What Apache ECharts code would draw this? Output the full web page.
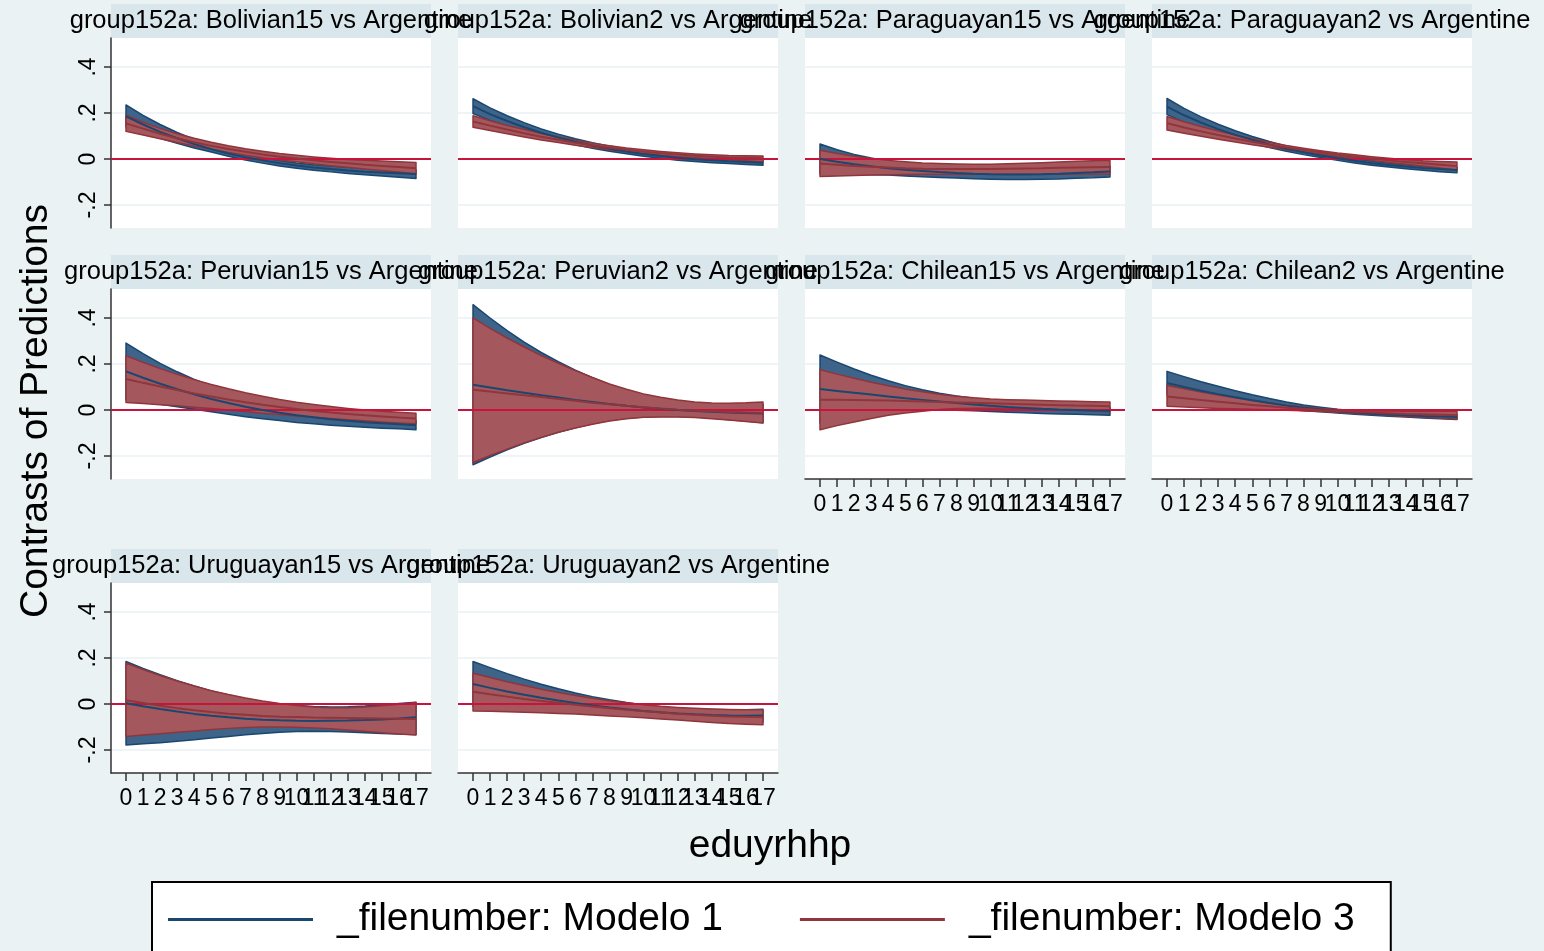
<!DOCTYPE html>
<html>
<head>
<meta charset="utf-8">
<script src="https://cdn.jsdelivr.net/npm/echarts@6/dist/echarts.min.js"></script>
<style>
html, body { margin: 0; background: #eaf2f3; }
#chart { width: 1544px; height: 951px; }
</style>
</head>
<body>
<div id="chart"></div>
<script>
const xValues = [0, 1, 2, 3, 4, 5, 6, 7, 8, 9, 10, 11, 12, 13, 14, 15, 16, 17]
const yTicks = [-0.2, 0, 0.2, 0.4]
const yTickLabels = ['-.2', '0', '.2', '.4']
const panelTitles = [
    'group152a: Bolivian15 vs Argentine', 'group152a: Bolivian2 vs Argentine',
    'group152a: Paraguayan15 vs Argentine', 'group152a: Paraguayan2 vs Argentine',
    'group152a: Peruvian15 vs Argentine', 'group152a: Peruvian2 vs Argentine',
    'group152a: Chilean15 vs Argentine', 'group152a: Chilean2 vs Argentine',
    'group152a: Uruguayan15 vs Argentine', 'group152a: Uruguayan2 vs Argentine'
]
const modelNames = ['_filenumber: Modelo 1', '_filenumber: Modelo 3']

// Bolivian15
const bol15M1Est = [0.185, 0.15, 0.118, 0.09, 0.065, 0.043, 0.024, 0.008, -0.006, -0.018, -0.028, -0.037, -0.044, -0.05, -0.055, -0.059, -0.062, -0.065]
const bol15M1Hi = [0.235, 0.19, 0.15, 0.115, 0.085, 0.06, 0.038, 0.02, 0.005, -0.007, -0.017, -0.025, -0.031, -0.036, -0.04, -0.043, -0.045, -0.047]
const bol15M1Lo = [0.14, 0.115, 0.09, 0.068, 0.048, 0.03, 0.012, -0.004, -0.018, -0.03, -0.04, -0.049, -0.056, -0.063, -0.069, -0.074, -0.079, -0.085]
const bol15M3Est = [0.155, 0.132, 0.11, 0.09, 0.073, 0.057, 0.043, 0.031, 0.02, 0.01, 0.002, -0.006, -0.013, -0.019, -0.025, -0.03, -0.035, -0.04]
const bol15M3Hi = [0.19, 0.16, 0.133, 0.11, 0.09, 0.073, 0.058, 0.045, 0.034, 0.024, 0.016, 0.009, 0.003, -0.002, -0.006, -0.009, -0.012, -0.015]
const bol15M3Lo = [0.12, 0.104, 0.088, 0.072, 0.057, 0.042, 0.028, 0.016, 0.005, -0.004, -0.012, -0.021, -0.029, -0.036, -0.043, -0.05, -0.057, -0.065]
// Bolivian2
const bol2M1Est = [0.23, 0.195, 0.165, 0.138, 0.114, 0.093, 0.075, 0.059, 0.045, 0.033, 0.022, 0.013, 0.005, -0.001, -0.006, -0.01, -0.013, -0.016]
const bol2M1Hi = [0.262, 0.222, 0.188, 0.158, 0.131, 0.108, 0.088, 0.071, 0.056, 0.043, 0.032, 0.023, 0.015, 0.009, 0.004, 0.0, -0.003, -0.005]
const bol2M1Lo = [0.198, 0.168, 0.142, 0.118, 0.097, 0.078, 0.062, 0.047, 0.034, 0.023, 0.012, 0.003, -0.005, -0.011, -0.016, -0.02, -0.024, -0.027]
const bol2M3Est = [0.163, 0.145, 0.128, 0.112, 0.097, 0.084, 0.071, 0.06, 0.049, 0.04, 0.032, 0.025, 0.019, 0.014, 0.01, 0.007, 0.005, 0.003]
const bol2M3Hi = [0.188, 0.166, 0.146, 0.128, 0.111, 0.096, 0.082, 0.069, 0.058, 0.048, 0.04, 0.033, 0.027, 0.022, 0.018, 0.015, 0.014, 0.013]
const bol2M3Lo = [0.138, 0.124, 0.11, 0.096, 0.083, 0.072, 0.06, 0.05, 0.04, 0.031, 0.023, 0.016, 0.01, 0.005, 0.001, -0.003, -0.008, -0.012]
// Paraguayan15
const par15M1Est = [0.0, -0.012, -0.023, -0.032, -0.04, -0.047, -0.052, -0.057, -0.061, -0.064, -0.066, -0.067, -0.067, -0.066, -0.064, -0.061, -0.058, -0.054]
const par15M1Hi = [0.065, 0.04, 0.02, 0.004, -0.01, -0.02, -0.028, -0.034, -0.039, -0.042, -0.044, -0.045, -0.045, -0.044, -0.041, -0.038, -0.034, -0.03]
const par15M1Lo = [-0.065, -0.064, -0.066, -0.068, -0.07, -0.074, -0.077, -0.08, -0.083, -0.086, -0.088, -0.089, -0.089, -0.088, -0.087, -0.084, -0.082, -0.078]
const par15M3Est = [-0.02, -0.025, -0.03, -0.034, -0.037, -0.04, -0.042, -0.043, -0.044, -0.044, -0.043, -0.042, -0.041, -0.04, -0.038, -0.037, -0.036, -0.035]
const par15M3Hi = [0.038, 0.024, 0.012, 0.002, -0.006, -0.012, -0.017, -0.02, -0.022, -0.023, -0.023, -0.021, -0.019, -0.016, -0.013, -0.01, -0.008, -0.006]
const par15M3Lo = [-0.076, -0.074, -0.072, -0.07, -0.068, -0.067, -0.066, -0.066, -0.066, -0.066, -0.066, -0.066, -0.066, -0.066, -0.066, -0.065, -0.065, -0.065]
// Paraguayan2
const par2M1Est = [0.228, 0.19, 0.158, 0.13, 0.105, 0.083, 0.063, 0.045, 0.029, 0.015, 0.003, -0.008, -0.018, -0.026, -0.033, -0.039, -0.044, -0.048]
const par2M1Hi = [0.263, 0.22, 0.183, 0.151, 0.123, 0.098, 0.076, 0.056, 0.039, 0.024, 0.012, 0.001, -0.009, -0.017, -0.024, -0.029, -0.033, -0.036]
const par2M1Lo = [0.193, 0.16, 0.133, 0.109, 0.087, 0.068, 0.05, 0.034, 0.019, 0.006, -0.006, -0.017, -0.027, -0.035, -0.042, -0.049, -0.055, -0.06]
const par2M3Est = [0.156, 0.137, 0.12, 0.104, 0.089, 0.075, 0.062, 0.05, 0.039, 0.029, 0.019, 0.01, 0.002, -0.006, -0.013, -0.019, -0.025, -0.031]
const par2M3Hi = [0.185, 0.162, 0.141, 0.122, 0.104, 0.088, 0.073, 0.059, 0.047, 0.036, 0.026, 0.018, 0.01, 0.003, -0.003, -0.008, -0.011, -0.013]
const par2M3Lo = [0.126, 0.112, 0.099, 0.086, 0.074, 0.062, 0.051, 0.041, 0.031, 0.022, 0.012, 0.002, -0.006, -0.015, -0.023, -0.03, -0.039, -0.049]
// Peruvian15
const per15M1Est = [0.168, 0.14, 0.114, 0.09, 0.068, 0.048, 0.03, 0.014, 0.0, -0.012, -0.023, -0.032, -0.04, -0.047, -0.053, -0.058, -0.062, -0.066]
const per15M1Hi = [0.291, 0.245, 0.203, 0.166, 0.133, 0.104, 0.079, 0.057, 0.038, 0.022, 0.009, -0.002, -0.012, -0.02, -0.027, -0.034, -0.04, -0.045]
const per15M1Lo = [0.045, 0.035, 0.025, 0.014, 0.003, -0.008, -0.019, -0.029, -0.038, -0.046, -0.054, -0.06, -0.066, -0.071, -0.075, -0.079, -0.082, -0.086]
const per15M3Est = [0.135, 0.118, 0.102, 0.087, 0.072, 0.059, 0.046, 0.034, 0.023, 0.013, 0.004, -0.004, -0.011, -0.017, -0.023, -0.028, -0.033, -0.037]
const per15M3Hi = [0.236, 0.207, 0.18, 0.155, 0.132, 0.111, 0.092, 0.075, 0.06, 0.046, 0.034, 0.024, 0.015, 0.007, 0.0, -0.005, -0.01, -0.014]
const per15M3Lo = [0.033, 0.028, 0.023, 0.018, 0.012, 0.006, 0.0, -0.007, -0.014, -0.02, -0.026, -0.032, -0.037, -0.042, -0.047, -0.052, -0.056, -0.06]
// Peruvian2
const per2M1Est = [0.11, 0.098, 0.086, 0.075, 0.064, 0.054, 0.044, 0.035, 0.026, 0.018, 0.011, 0.005, 0.0, -0.004, -0.008, -0.011, -0.013, -0.015]
const per2M1Hi = [0.458, 0.4, 0.345, 0.295, 0.25, 0.21, 0.173, 0.14, 0.11, 0.085, 0.065, 0.05, 0.038, 0.03, 0.026, 0.024, 0.024, 0.025]
const per2M1Lo = [-0.238, -0.205, -0.173, -0.145, -0.12, -0.097, -0.077, -0.06, -0.046, -0.036, -0.03, -0.028, -0.028, -0.03, -0.035, -0.042, -0.048, -0.055]
const per2M3Est = [0.088, 0.08, 0.072, 0.064, 0.056, 0.048, 0.04, 0.032, 0.025, 0.018, 0.012, 0.006, 0.001, -0.003, -0.006, -0.009, -0.011, -0.013]
const per2M3Hi = [0.4, 0.355, 0.313, 0.274, 0.237, 0.203, 0.171, 0.141, 0.113, 0.09, 0.07, 0.055, 0.043, 0.035, 0.03, 0.029, 0.031, 0.035]
const per2M3Lo = [-0.228, -0.198, -0.17, -0.143, -0.119, -0.097, -0.078, -0.062, -0.048, -0.038, -0.032, -0.03, -0.03, -0.033, -0.038, -0.044, -0.05, -0.057]
// Chilean15
const chi15M1Est = [0.091, 0.083, 0.075, 0.067, 0.059, 0.051, 0.044, 0.037, 0.03, 0.024, 0.018, 0.013, 0.009, 0.005, 0.002, 0.0, -0.002, -0.003]
const chi15M1Hi = [0.239, 0.208, 0.178, 0.151, 0.127, 0.106, 0.088, 0.073, 0.061, 0.051, 0.043, 0.036, 0.03, 0.025, 0.021, 0.017, 0.014, 0.012]
const chi15M1Lo = [-0.057, -0.042, -0.028, -0.017, -0.009, -0.004, 0.0, 0.001, -0.001, -0.003, -0.007, -0.01, -0.012, -0.015, -0.017, -0.019, -0.021, -0.023]
const chi15M3Est = [0.045, 0.044, 0.043, 0.042, 0.041, 0.039, 0.037, 0.035, 0.033, 0.031, 0.029, 0.027, 0.025, 0.023, 0.021, 0.019, 0.018, 0.016]
const chi15M3Hi = [0.175, 0.156, 0.138, 0.121, 0.105, 0.091, 0.079, 0.068, 0.06, 0.053, 0.048, 0.045, 0.043, 0.041, 0.039, 0.038, 0.036, 0.035]
const chi15M3Lo = [-0.086, -0.068, -0.052, -0.037, -0.023, -0.013, -0.005, 0.002, 0.006, 0.008, 0.008, 0.007, 0.005, 0.003, 0.0, -0.002, -0.005, -0.008]
// Chilean2
const chi2M1Est = [0.117, 0.1, 0.084, 0.069, 0.055, 0.042, 0.03, 0.019, 0.01, 0.002, -0.005, -0.011, -0.016, -0.02, -0.023, -0.026, -0.028, -0.03]
const chi2M1Hi = [0.168, 0.145, 0.123, 0.103, 0.084, 0.066, 0.05, 0.035, 0.022, 0.012, 0.003, -0.004, -0.009, -0.013, -0.016, -0.018, -0.019, -0.02]
const chi2M1Lo = [0.066, 0.055, 0.045, 0.035, 0.026, 0.018, 0.01, 0.003, -0.003, -0.008, -0.013, -0.018, -0.023, -0.027, -0.031, -0.035, -0.038, -0.041]
const chi2M3Est = [0.059, 0.051, 0.043, 0.036, 0.029, 0.022, 0.016, 0.01, 0.005, 0.0, -0.004, -0.008, -0.011, -0.014, -0.017, -0.019, -0.021, -0.023]
const chi2M3Hi = [0.106, 0.092, 0.078, 0.065, 0.053, 0.041, 0.031, 0.021, 0.013, 0.007, 0.002, -0.001, -0.003, -0.004, -0.005, -0.005, -0.006, -0.006]
const chi2M3Lo = [0.016, 0.013, 0.01, 0.007, 0.005, 0.003, 0.001, -0.001, -0.003, -0.007, -0.011, -0.015, -0.019, -0.024, -0.028, -0.032, -0.036, -0.039]
// Uruguayan15
const uru15M1Est = [0.003, -0.01, -0.022, -0.033, -0.043, -0.051, -0.058, -0.064, -0.068, -0.071, -0.073, -0.074, -0.073, -0.072, -0.07, -0.067, -0.063, -0.058]
const uru15M1Hi = [0.185, 0.155, 0.127, 0.101, 0.078, 0.057, 0.039, 0.023, 0.01, 0.0, -0.007, -0.011, -0.013, -0.012, -0.009, -0.004, 0.002, 0.008]
const uru15M1Lo = [-0.178, -0.173, -0.168, -0.162, -0.155, -0.148, -0.141, -0.134, -0.128, -0.123, -0.12, -0.119, -0.12, -0.122, -0.125, -0.128, -0.13, -0.133]
const uru15M3Est = [0.016, 0.004, -0.008, -0.018, -0.027, -0.035, -0.042, -0.047, -0.052, -0.055, -0.057, -0.059, -0.06, -0.061, -0.062, -0.063, -0.064, -0.065]
const uru15M3Hi = [0.178, 0.15, 0.124, 0.1, 0.078, 0.058, 0.041, 0.026, 0.013, 0.002, -0.007, -0.013, -0.016, -0.016, -0.013, -0.008, -0.001, 0.006]
const uru15M3Lo = [-0.141, -0.135, -0.129, -0.123, -0.117, -0.111, -0.106, -0.102, -0.1, -0.1, -0.101, -0.104, -0.108, -0.113, -0.119, -0.125, -0.13, -0.135]
// Uruguayan2
const uru2M1Est = [0.087, 0.07, 0.054, 0.04, 0.027, 0.015, 0.004, -0.006, -0.015, -0.023, -0.03, -0.036, -0.041, -0.045, -0.048, -0.05, -0.051, -0.05]
const uru2M1Hi = [0.185, 0.158, 0.132, 0.108, 0.086, 0.066, 0.048, 0.032, 0.018, 0.006, -0.004, -0.012, -0.018, -0.022, -0.024, -0.025, -0.025, -0.023]
const uru2M1Lo = [-0.011, -0.018, -0.024, -0.028, -0.032, -0.036, -0.04, -0.044, -0.048, -0.052, -0.056, -0.06, -0.064, -0.068, -0.072, -0.075, -0.077, -0.078]
const uru2M3Est = [0.053, 0.042, 0.032, 0.022, 0.013, 0.005, -0.003, -0.011, -0.018, -0.025, -0.031, -0.037, -0.042, -0.047, -0.051, -0.054, -0.056, -0.057]
const uru2M3Hi = [0.134, 0.115, 0.097, 0.08, 0.064, 0.05, 0.037, 0.025, 0.014, 0.005, -0.003, -0.01, -0.015, -0.019, -0.022, -0.024, -0.025, -0.025]
const uru2M3Lo = [-0.031, -0.032, -0.034, -0.036, -0.038, -0.041, -0.044, -0.048, -0.052, -0.056, -0.06, -0.065, -0.07, -0.075, -0.08, -0.085, -0.088, -0.09]

const panels = [
    [[bol15M1Est, bol15M1Lo, bol15M1Hi], [bol15M3Est, bol15M3Lo, bol15M3Hi]],
    [[bol2M1Est, bol2M1Lo, bol2M1Hi], [bol2M3Est, bol2M3Lo, bol2M3Hi]],
    [[par15M1Est, par15M1Lo, par15M1Hi], [par15M3Est, par15M3Lo, par15M3Hi]],
    [[par2M1Est, par2M1Lo, par2M1Hi], [par2M3Est, par2M3Lo, par2M3Hi]],
    [[per15M1Est, per15M1Lo, per15M1Hi], [per15M3Est, per15M3Lo, per15M3Hi]],
    [[per2M1Est, per2M1Lo, per2M1Hi], [per2M3Est, per2M3Lo, per2M3Hi]],
    [[chi15M1Est, chi15M1Lo, chi15M1Hi], [chi15M3Est, chi15M3Lo, chi15M3Hi]],
    [[chi2M1Est, chi2M1Lo, chi2M1Hi], [chi2M3Est, chi2M3Lo, chi2M3Hi]],
    [[uru15M1Est, uru15M1Lo, uru15M1Hi], [uru15M3Est, uru15M3Lo, uru15M3Hi]],
    [[uru2M1Est, uru2M1Lo, uru2M1Hi], [uru2M3Est, uru2M3Lo, uru2M3Hi]]
]
const withXAxis = [6, 7, 8, 9]

// layout
const FONT = '"Liberation Sans", Arial, Helvetica, sans-serif'
const colLeft = [111, 458, 805, 1152]
const rowTop = [38, 289, 583]
const plotW = 320
const plotH = 190
const stripH = 34
const edgeColors = ['#1a476f', '#90353b']
const fillColors = ['#3e6489', '#a4585e']

const pairs = arr => xValues.map((x, i) => [x, arr[i]])
// labels go on two axes (even / odd) so that the crowded ones are not dropped
const evenX = xValues.filter(v => v % 2 === 0)
const oddX = xValues.filter(v => v % 2 === 1)

// one closed polygon per band, drawn when the first item is rendered
function bandRenderer(edge, fill) {
    return function (params, api) {
        if (params.dataIndexInside !== 0) return
        const n = params.dataInsideLength
        const upper = [], lower = []
        for (let j = 0; j < n; j++) {
            const x = api.value(0, j)
            upper.push(api.coord([x, api.value(2, j)]))
            lower.unshift(api.coord([x, api.value(1, j)]))
        }
        return {
            type: 'polygon',
            shape: { points: upper.concat(lower) },
            style: { fill: fill, stroke: edge, lineWidth: 1.5, lineJoin: 'round' }
        }
    }
}

function xAxisFor(i, hasX, ticks, labels) {
    return {
        type: 'value', gridIndex: i, min: -0.88, max: 17.88, position: 'bottom',
        axisLine: { show: hasX && ticks, onZero: false, lineStyle: { color: '#333', width: 1.5 } },
        axisTick: { show: hasX && ticks, customValues: xValues, length: 8, lineStyle: { color: '#333', width: 1.5 } },
        axisLabel: {
            show: hasX, customValues: labels, fontSize: 23, color: '#000', fontFamily: FONT,
            margin: 14, hideOverlap: false, showMinLabel: true, showMaxLabel: true
        },
        splitLine: { show: false }
    }
}

const grids = [], xAxes = [], yAxes = [], series = [], graphics = []

panels.forEach((panel, i) => {
    const col = i % 4
    const row = Math.floor(i / 4)
    const hasX = withXAxis.indexOf(i) >= 0
    grids.push({
        left: colLeft[col], top: rowTop[row], width: plotW, height: plotH,
        show: true, backgroundColor: '#ffffff', borderWidth: 0
    })
    const xIdx = xAxes.length
    xAxes.push(xAxisFor(i, hasX, true, evenX))
    if (hasX) xAxes.push(xAxisFor(i, hasX, false, oddX))
    yAxes.push({
        type: 'value', gridIndex: i, min: -0.3, max: 0.526,
        axisLine: { show: col === 0, onZero: false, lineStyle: { color: '#333', width: 1.5 } },
        axisTick: { show: col === 0, customValues: yTicks, length: 7, lineStyle: { color: '#333', width: 1.5 } },
        axisLabel: {
            show: col === 0, customValues: yTicks, rotate: 90, fontSize: 23, color: '#000',
            fontFamily: FONT, margin: 11,
            formatter: v => yTickLabels[yTicks.indexOf(v)]
        },
        splitLine: { show: true, lineStyle: { color: '#eaf2f3', width: 1.5 } }
    })

    // zero reference line, under the bands
    series.push({
        type: 'line', xAxisIndex: xIdx, yAxisIndex: i, data: [], z: 1, silent: true,
        markLine: {
            silent: true, symbol: 'none', label: { show: false },
            lineStyle: { color: '#c8143c', width: 2, type: 'solid' },
            data: [{ yAxis: 0 }]
        }
    })

    // confidence bands: Modelo 1 first, Modelo 3 on top
    panel.forEach((m, k) => {
        series.push({
            type: 'custom', xAxisIndex: xIdx, yAxisIndex: i, z: 2 + k, silent: true,
            renderItem: bandRenderer(edgeColors[k], fillColors[k]),
            encode: { x: 0, y: [1, 2] },
            data: xValues.map((x, j) => [x, m[1][j], m[2][j]])
        })
    })
    // point estimates
    panel.forEach((m, k) => {
        series.push({
            name: modelNames[k], type: 'line', xAxisIndex: xIdx, yAxisIndex: i, z: 5 + k,
            symbol: 'none', silent: true, data: pairs(m[0]),
            itemStyle: { color: edgeColors[k] },
            lineStyle: { color: edgeColors[k], width: 2 }
        })
    })

    // title strip
    graphics.push({
        type: 'rect', z: 0,
        shape: { x: colLeft[col], y: rowTop[row] - stripH, width: plotW, height: stripH },
        style: { fill: '#d9e6eb' }
    })
})

panelTitles.forEach((t, i) => {
    const col = i % 4
    const row = Math.floor(i / 4)
    graphics.push({
        type: 'text', z: 10,
        x: colLeft[col] + plotW / 2, y: rowTop[row] - stripH / 2,
        style: { text: t, align: 'center', verticalAlign: 'middle', fill: '#000', font: '25.5px ' + FONT }
    })
})

graphics.push({
    type: 'text', z: 10, x: 36, y: 411, rotation: Math.PI / 2,
    style: { text: 'Contrasts of Predictions', align: 'center', verticalAlign: 'middle', fill: '#000', font: '39px ' + FONT }
})
graphics.push({
    type: 'text', z: 10, x: 770, y: 846,
    style: { text: 'eduyrhhp', align: 'center', verticalAlign: 'middle', fill: '#000', font: '39px ' + FONT }
})

const chart = echarts.init(document.getElementById('chart'))
chart.setOption({
    backgroundColor: '#eaf2f3',
    animation: false,
    grid: grids,
    xAxis: xAxes,
    yAxis: yAxes,
    series: series,
    graphic: graphics,
    legend: {
        data: modelNames,
        left: 152, top: 882,
        icon: 'rect', itemWidth: 145, itemHeight: 3, itemGap: 77,
        selectedMode: false,
        padding: [18, 36, 60, 16],
        backgroundColor: '#ffffff', borderColor: '#000', borderWidth: 2,
        textStyle: { fontSize: 39, color: '#000', fontFamily: FONT, padding: [0, 0, 0, 19] }
    }
})
</script>
</body>
</html>
